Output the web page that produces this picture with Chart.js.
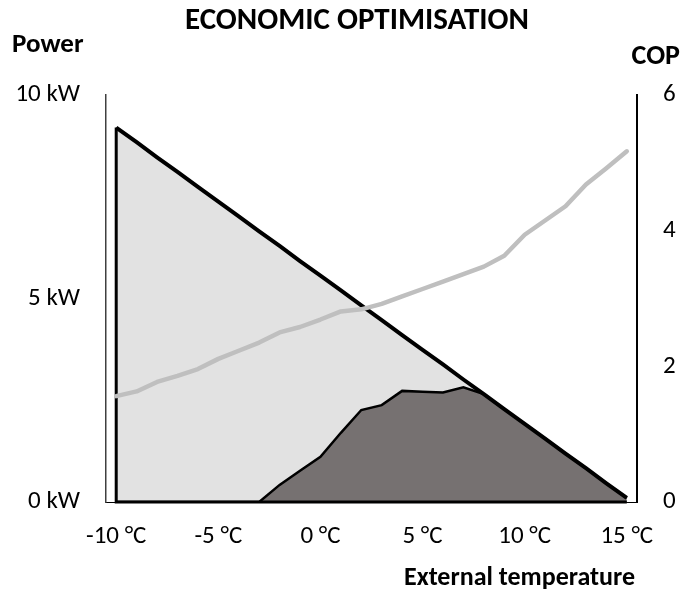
<!DOCTYPE html>
<html>
<head>
<meta charset="utf-8">
<script src="https://cdn.jsdelivr.net/npm/chart.js@4/dist/chart.umd.min.js"></script>
<style>
  html, body { margin: 0; padding: 0; background: #fff; }
  #wrap { width: 693px; height: 594px; position: relative; }
</style>
</head>
<body>
<div id="wrap"><canvas id="chart" width="693" height="594"></canvas></div>
<script>
// External temperature, one category per °C
const temperatures = [-10, -9, -8, -7, -6, -5, -4, -3, -2, -1, 0, 1, 2, 3, 4, 5, 6, 7, 8, 9, 10, 11, 12, 13, 14, 15];

// Building heat demand (kW)
const heatDemand = [9.20, 8.84, 8.47, 8.11, 7.74, 7.38, 7.02, 6.65, 6.29, 5.92, 5.56, 5.20, 4.83,
                    4.47, 4.10, 3.74, 3.38, 3.01, 2.65, 2.28, 1.92, 1.56, 1.19, 0.83, 0.46, 0.10];

// Power covered by the heat pump under economic optimisation (kW)
const heatPumpPower = [0, 0, 0, 0, 0, 0, 0, 0, 0.42, 0.77, 1.11, 1.70, 2.26,
                       2.38, 2.73, 2.71, 2.69, 2.82, 2.65, 2.28, 1.92, 1.56, 1.19, 0.83, 0.46, 0.10];

// Coefficient of performance
const copValues = [1.56, 1.63, 1.77, 1.86, 1.96, 2.11, 2.23, 2.35, 2.50, 2.58, 2.69, 2.81, 2.84,
                   2.92, 3.03, 3.14, 3.25, 3.36, 3.47, 3.63, 3.94, 4.15, 4.36, 4.68, 4.92, 5.17];

const labelStep = 5;
const powerRange = [0, 10];
const powerStep = 5;
const copRange = [0, 6];
const copStep = 2;

const FONT = "Carlito, Calibri, Lato, 'Open Sans', sans-serif";

// Outline of the demand area: left edge and base line
const demandOutline = {
  id: 'demandOutline',
  afterDatasetDraw(chart, args) {
    if (args.index !== 2) return;
    const x = chart.scales.x, y = chart.scales.y;
    const ctx = chart.ctx;
    const x0 = x.getPixelForValue(0);
    const x1 = x.getPixelForValue(temperatures.length - 1);
    const yTop = y.getPixelForValue(heatDemand[0]);
    const yBase = y.getPixelForValue(0);
    ctx.save();
    ctx.strokeStyle = '#000';
    ctx.lineWidth = 3;
    ctx.lineJoin = 'miter';
    ctx.beginPath();
    ctx.moveTo(x0, yTop);
    ctx.lineTo(x0, yBase);
    ctx.lineTo(x1, yBase);
    ctx.stroke();
    ctx.restore();
  }
};

// Chart heading and axis captions
const captions = {
  id: 'captions',
  afterDraw(chart) {
    const ctx = chart.ctx;
    const area = chart.chartArea;
    ctx.save();
    ctx.fillStyle = '#000';
    ctx.textBaseline = 'middle';
    ctx.font = "bold 31px " + FONT;
    ctx.textAlign = 'center';
    ctx.fillText('ECONOMIC OPTIMISATION', 357, 21);
    ctx.font = "bold 27px " + FONT;
    ctx.textAlign = 'left';
    ctx.fillText('Power', 12, 45);
    ctx.font = "bold 28px " + FONT;
    ctx.textAlign = 'right';
    ctx.fillText('COP', 680, 57);
    ctx.font = "bold 26px " + FONT;
    ctx.fillText('External temperature', area.right - 2, area.bottom + 76);
    ctx.restore();
  }
};

new Chart(document.getElementById('chart'), {
  type: 'line',
  data: {
    labels: temperatures,
    datasets: [
      {
        label: 'COP',
        data: copValues,
        yAxisID: 'y2',
        borderColor: '#bfbfbf',
        borderWidth: 4.5,
        borderCapStyle: 'round',
        borderJoinStyle: 'round',
        pointRadius: 0,
        fill: false,
        tension: 0,
        order: 0
      },
      {
        label: 'Heat pump',
        data: heatPumpPower,
        yAxisID: 'y',
        borderColor: '#000',
        borderWidth: 2.5,
        backgroundColor: '#767171',
        pointRadius: 0,
        fill: 'origin',
        tension: 0,
        order: 2
      },
      {
        label: 'Heat demand',
        data: heatDemand,
        yAxisID: 'y',
        borderColor: '#000',
        borderWidth: 4,
        pointRadius: 0,
        fill: false,
        tension: 0,
        order: 1
      },
      {
        label: 'Heat demand area',
        data: heatDemand,
        yAxisID: 'y',
        borderWidth: 0,
        borderColor: 'rgba(0,0,0,0)',
        backgroundColor: '#e2e2e2',
        pointRadius: 0,
        fill: 'origin',
        tension: 0,
        order: 3
      }
    ]
  },
  options: {
    responsive: false,
    animation: false,
    devicePixelRatio: 1,
    layout: { padding: { top: 95, left: 0, right: 0, bottom: 0 } },
    plugins: {
      legend: { display: false },
      tooltip: { enabled: false },
      title: { display: false }
    },
    scales: {
      x: {
        type: 'category',
        offset: true,
        grid: { display: false, drawTicks: false },
        border: { display: true, color: '#000', width: 1 },
        ticks: {
          autoSkip: false,
          maxRotation: 0,
          minRotation: 0,
          padding: 20,
          color: '#000',
          font: { family: FONT, size: 25 },
          callback(value, index) {
            const t = temperatures[index];
            return t % labelStep === 0 ? t + ' °C' : '';
          }
        },
        afterFit(scale) { scale.height = 92; }
      },
      y: {
        position: 'left',
        min: powerRange[0],
        max: powerRange[1],
        grid: { display: false, drawTicks: false },
        border: { display: true, color: '#404040', width: 1.5 },
        ticks: {
          stepSize: powerStep,
          padding: 26,
          color: '#000',
          font: { family: FONT, size: 25 },
          callback: v => v + ' kW'
        },
        afterFit(scale) { scale.width = 106; }
      },
      y2: {
        position: 'right',
        min: copRange[0],
        max: copRange[1],
        grid: { display: false, drawTicks: false },
        border: { display: true, color: '#000', width: 2 },
        ticks: {
          stepSize: copStep,
          padding: 26,
          color: '#000',
          font: { family: FONT, size: 25 }
        },
        afterFit(scale) { scale.width = 56; }
      }
    }
  },
  plugins: [demandOutline, captions]
});
</script>
</body>
</html>
